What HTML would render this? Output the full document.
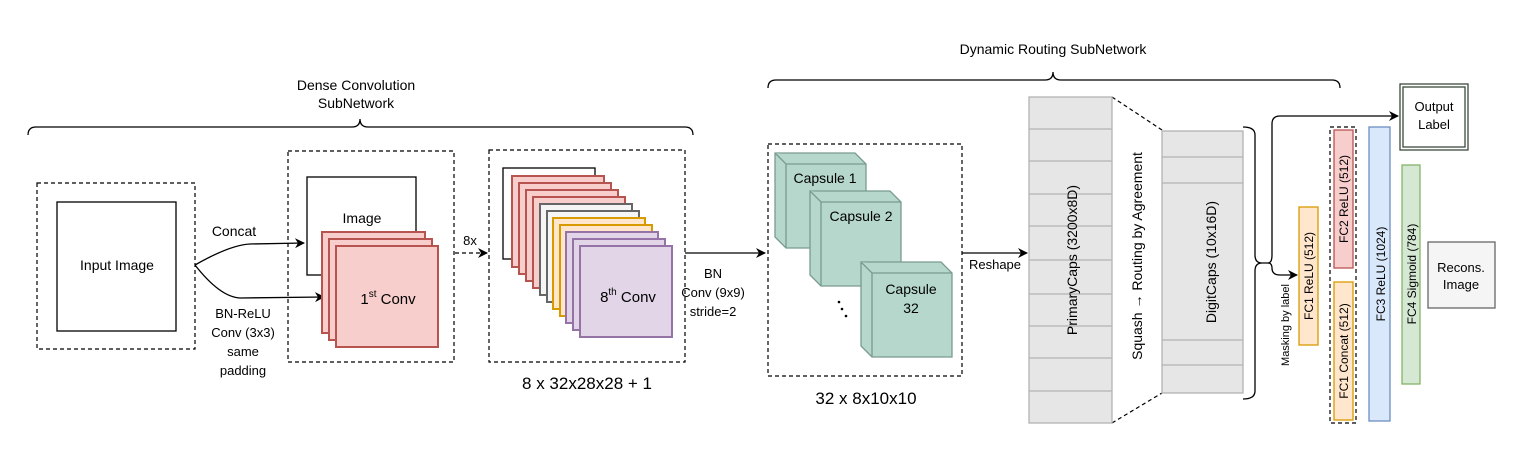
<!DOCTYPE html>
<html><head><meta charset="utf-8"><style>body{margin:0;background:#fff}svg{display:block}text{font-family:"Liberation Sans",sans-serif;fill:#000}</style></head><body>
<svg width="1539" height="475" viewBox="0 0 1539 475" xmlns="http://www.w3.org/2000/svg">
<defs><marker id="a" markerWidth="10" markerHeight="10" refX="9" refY="5" orient="auto" markerUnits="userSpaceOnUse"><path d="M0,0 L10,5 L0,10 L3,5z" fill="#000"/></marker></defs>
<g font-size="14" text-anchor="middle">
<text x="356" y="90">Dense Convolution</text><text x="356" y="108">SubNetwork</text>
<text x="1053" y="54">Dynamic Routing SubNetwork</text>
</g>
<g fill="none" stroke="#000" stroke-width="1.3">
<path d="M28,135 Q28,127 36,127 L352,127 Q360,127 360,119 Q360,127 368,127 L685,127 Q693,127 693,135"/>
<path d="M768,88 Q768,80 776,80 L1045,80 Q1053,80 1053,72 Q1053,80 1061,80 L1332,80 Q1340,80 1340,88"/>
</g>
<g fill="none" stroke="#000" stroke-dasharray="4,3" stroke-width="1.2">
<rect x="37" y="183" width="158" height="166"/>
<rect x="288" y="151" width="166" height="211"/>
<rect x="489" y="150" width="196" height="212"/>
<rect x="768" y="144" width="194" height="232"/>
<path d="M1112,97 L1162,130 M1112,423 L1162,393"/>
<rect x="1330" y="127" width="26" height="296"/>
</g>
<rect x="57" y="202" width="119" height="129" fill="#fff" stroke="#000" stroke-width="1.3"/>
<text x="117" y="270" font-size="14" text-anchor="middle">Input Image</text>
<g fill="none" stroke="#000" stroke-width="1.3">
<path d="M195,265 Q230,245 250,244 L304,243" marker-end="url(#a)"/>
<path d="M195,265 Q220,297 240,298 L324,297" marker-end="url(#a)"/>
<path d="M455,253 L487,253" stroke-dasharray="4,3" marker-end="url(#a)"/>
<path d="M685,253 L765,253" marker-end="url(#a)"/>
<path d="M962,253 L1027,253" marker-end="url(#a)"/>
</g>
<text x="234" y="236" font-size="14" text-anchor="middle">Concat</text>
<g font-size="13" text-anchor="middle"><text x="243" y="318">BN-ReLU</text><text x="243" y="337">Conv (3x3)</text><text x="243" y="356">same</text><text x="243" y="375">padding</text>
<text x="470" y="245">8x</text>
<text x="713" y="278">BN</text><text x="713" y="297">Conv (9x9)</text><text x="713" y="316">stride=2</text>
<text x="995" y="269">Reshape</text></g>
<rect x="307" y="177" width="109" height="98" fill="#fff" stroke="#000" stroke-width="1.3"/>
<text x="362" y="223" font-size="14" text-anchor="middle">Image</text>
<g fill="#f8cecc" stroke="#b85450" stroke-width="2">
<rect x="322" y="232" width="103" height="101"/><rect x="329" y="239" width="103" height="101"/><rect x="336" y="246" width="102" height="101"/></g>
<text x="388" y="304" font-size="15" text-anchor="middle">1<tspan font-size="10" dy="-7">st</tspan><tspan dy="7"> Conv</tspan></text>
<rect x="503" y="168" width="92" height="91" fill="#fff" stroke="#000" stroke-width="1.3"/>
<g stroke-width="2">
<rect x="512" y="176" width="92" height="91" fill="#f8cecc" stroke="#b85450"/>
<rect x="519" y="183" width="92" height="91" fill="#f8cecc" stroke="#b85450"/>
<rect x="526" y="190" width="92" height="91" fill="#f8cecc" stroke="#b85450"/>
<rect x="533" y="197" width="92" height="91" fill="#f8cecc" stroke="#b85450"/>
<rect x="540" y="204" width="92" height="91" fill="#f5f5f5" stroke="#666"/>
<rect x="547" y="211" width="92" height="91" fill="#f5f5f5" stroke="#666"/>
<rect x="553" y="218" width="92" height="91" fill="#ffe6cc" stroke="#d79b00"/>
<rect x="560" y="225" width="92" height="91" fill="#ffe6cc" stroke="#d79b00"/>
<rect x="566" y="232" width="92" height="91" fill="#e1d5e7" stroke="#9673a6"/>
<rect x="573" y="239" width="92" height="91" fill="#e1d5e7" stroke="#9673a6"/>
<rect x="580" y="246" width="92" height="91" fill="#e1d5e7" stroke="#9673a6"/>
</g>
<text x="628" y="302" font-size="15" text-anchor="middle">8<tspan font-size="10" dy="-7">th</tspan><tspan dy="7"> Conv</tspan></text>
<text x="587" y="389" font-size="17" text-anchor="middle">8 x 32x28x28 + 1</text>
<g fill="#b6d7cb" stroke="#7a9a90" stroke-width="1.3">
<path d="M775,153 L855,153 L866,164 L866,248 L786,248 L775,237z"/><path d="M775,153 L786,164 L866,164 M786,164 L786,248"/>
<path d="M810,191 L890,191 L901,202 L901,286 L821,286 L810,275z"/><path d="M810,191 L821,202 L901,202 M821,202 L821,286"/>
<path d="M861,262 L941,262 L952,273 L952,357 L872,357 L861,346z"/><path d="M861,262 L872,273 L952,273 M872,273 L872,357"/>
</g>
<g font-size="14" text-anchor="middle"><text x="825" y="183">Capsule 1</text><text x="861" y="221">Capsule 2</text><text x="911" y="294">Capsule</text><text x="911" y="313">32</text></g>
<g fill="#000"><circle cx="839" cy="302" r="1.3"/><circle cx="842" cy="309" r="1.3"/><circle cx="846" cy="316" r="1.3"/></g>
<text x="866" y="404" font-size="17" text-anchor="middle">32 x 8x10x10</text>
<rect x="1029" y="97" width="83" height="326" fill="#e6e6e6" stroke="#b3b3b3" stroke-width="1.3"/>
<path d="M1029,129H1112M1029,161H1112M1029,194H1112M1029,226H1112M1029,260H1112M1029,294H1112M1029,326H1112M1029,358H1112M1029,391H1112" stroke="#b3b3b3" stroke-width="1.3"/>
<rect x="1162" y="131" width="81" height="262" fill="#e6e6e6" stroke="#b3b3b3" stroke-width="1.3"/>
<path d="M1162,157H1243M1162,183H1243M1162,340H1243M1162,365H1243" stroke="#b3b3b3" stroke-width="1.3"/>
<g font-size="14" text-anchor="middle">
<text transform="translate(1077,260) rotate(-90)">PrimaryCaps (3200x8D)</text>
<text transform="translate(1142,256) rotate(-90)">Squash → Routing by Agreement</text>
<text transform="translate(1216,262) rotate(-90)">DigitCaps (10x16D)</text>
<text transform="translate(1289,325) rotate(-90)" font-size="11">Masking by label</text>
</g>
<g fill="none" stroke="#000" stroke-width="1.3">
<path d="M1243,127 Q1255,127 1255,135 L1255,255 Q1255,263 1262,263 Q1255,263 1255,271 L1255,391 Q1255,399 1243,399"/>
<path d="M1262,263 L1268,263 Q1272,263 1272,255 L1272,124 Q1272,116 1280,116 L1398,116" marker-end="url(#a)"/>
<path d="M1268,263 Q1272,263 1272,268 Q1272,275 1280,275 L1297,275" marker-end="url(#a)"/>
</g>
<rect x="1400" y="84" width="68" height="66" fill="#fff" stroke="#3d4a3d" stroke-width="1.3"/>
<rect x="1403" y="87" width="62" height="60" fill="none" stroke="#3d4a3d" stroke-width="1.3"/>
<rect x="1299" y="207" width="19" height="138" fill="#ffe6cc" stroke="#d79b00" stroke-width="1.3"/>
<rect x="1334" y="130" width="19" height="138" fill="#f8cecc" stroke="#b85450" stroke-width="1.3"/>
<rect x="1334" y="282" width="19" height="138" fill="#ffe6cc" stroke="#d79b00" stroke-width="1.3"/>
<rect x="1369" y="127" width="21" height="294" fill="#dae8fc" stroke="#6c8ebf" stroke-width="1.3"/>
<rect x="1402" y="165" width="18" height="219" fill="#d5e8d4" stroke="#82b366" stroke-width="1.3"/>
<rect x="1428" y="242" width="67" height="66" fill="#f5f5f5" stroke="#666" stroke-width="1.3"/>
<g font-size="13" text-anchor="middle"><text x="1434" y="111">Output</text><text x="1434" y="129">Label</text>
<text x="1461" y="272">Recons.</text><text x="1461" y="289">Image</text></g>
<g font-size="12" text-anchor="middle">
<text transform="translate(1313,276) rotate(-90)">FC1 ReLU (512)</text>
<text transform="translate(1348,199) rotate(-90)">FC2 ReLU (512)</text>
<text transform="translate(1348,351) rotate(-90)">FC1 Concat (512)</text>
<text transform="translate(1385,274) rotate(-90)">FC3 ReLU (1024)</text>
<text transform="translate(1416,274) rotate(-90)">FC4 Sigmoid (784)</text>
</g>
</svg>
</body></html>
